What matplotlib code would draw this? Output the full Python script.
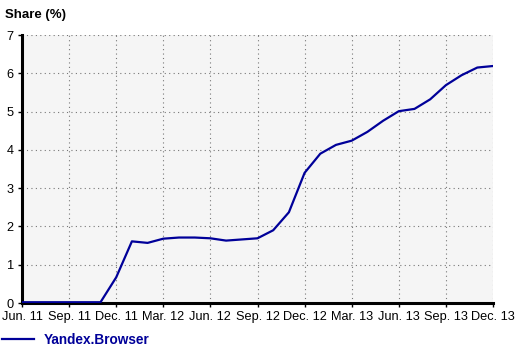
import matplotlib
matplotlib.use('Agg')
import matplotlib.pyplot as plt

# Yandex.Browser share, monthly from Jun. 11 to Dec. 13
months = ['Jun. 11', 'Jul. 11', 'Aug. 11', 'Sep. 11', 'Oct. 11', 'Nov. 11',
          'Dec. 11', 'Jan. 12', 'Feb. 12', 'Mar. 12', 'Apr. 12', 'May. 12',
          'Jun. 12', 'Jul. 12', 'Aug. 12', 'Sep. 12', 'Oct. 12', 'Nov. 12',
          'Dec. 12', 'Jan. 13', 'Feb. 13', 'Mar. 13', 'Apr. 13', 'May. 13',
          'Jun. 13', 'Jul. 13', 'Aug. 13', 'Sep. 13', 'Oct. 13', 'Nov. 13',
          'Dec. 13']
share = [0.02, 0.02, 0.02, 0.02, 0.02, 0.02,
         0.67, 1.61, 1.57, 1.68, 1.71, 1.71,
         1.69, 1.63, 1.66, 1.69, 1.90, 2.37,
         3.40, 3.90, 4.13, 4.24, 4.47, 4.76,
         5.01, 5.07, 5.32, 5.69, 5.95, 6.15,
         6.19]
series_name = 'Yandex.Browser'
y_ticks = [0, 1, 2, 3, 4, 5, 6, 7]

navy = '#000099'
plt.rcParams['font.family'] = ['Liberation Sans', 'DejaVu Sans']

fig = plt.figure(figsize=(5.2, 3.53), dpi=100)
ax = fig.add_axes([22 / 520, 1 - 303 / 353, (493 - 22) / 520, (303 - 35) / 353])
ax.set_facecolor('#f5f5f5')

x = list(range(len(months)))
line, = ax.plot(x, share, color=navy, lw=1.6, label=series_name, zorder=3,
                solid_joinstyle='round')

# ticks every 3 months
tick_pos = x[::3]
ax.set_xticks(tick_pos)
ax.set_xticklabels(months[::3], fontsize=9.2)
ax.set_yticks(y_ticks)
ax.set_yticklabels([str(v) for v in y_ticks], fontsize=9.2)
ax.set_xlim(0, len(months) - 1)
ax.set_ylim(0, 7)

ax.grid(True, linestyle=(0, (1, 3)), color='#777777', linewidth=0.8)
for s in ['top', 'right']:
    ax.spines[s].set_visible(False)
for s in ['left', 'bottom']:
    ax.spines[s].set_linewidth(2.2)
    ax.spines[s].set_color('black')
ax.tick_params(axis='both', length=3, width=1, pad=3, colors='black')

fig.text(5 / 520, 1 - 15 / 353, 'Share (%)', fontsize=9.5, fontweight='bold',
         va='center', ha='left')

leg = fig.legend(handles=[line], loc='center left',
                 bbox_to_anchor=(2 / 520, 1 - 340 / 353), frameon=False,
                 borderaxespad=0, borderpad=0,
                 handlelength=2.35, handletextpad=0.7,
                 prop={'weight': 'bold', 'size': 9.8})
for t in leg.get_texts():
    t.set_color(navy)

fig.savefig('out.png', dpi=100)
